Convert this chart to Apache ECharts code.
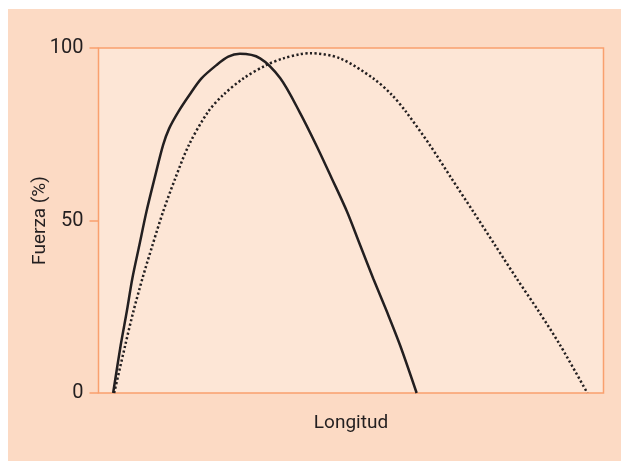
<!DOCTYPE html>
<html><head><meta charset="utf-8">
<script src="https://cdn.jsdelivr.net/npm/echarts@6/dist/echarts.min.js"></script>
<style>
html,body{margin:0;padding:0;background:#fff;width:621px;height:461px;overflow:hidden}
#c{position:absolute;left:8px;top:9px;width:613px;height:452px}
</style></head><body>
<div id="c"></div>
<script>
// Longitud (0-100 scale) and Fuerza (%)
const solidX = [2.9, 4.4, 5.6, 6.7, 8.1, 9.5, 11.1, 12.8, 14.0, 15.8, 18.0, 20.4, 23.4, 25.7, 28.0, 32.0, 36.0, 39.8, 43.1, 46.2, 49.2, 51.8, 54.4, 57.1, 59.7, 63.0];
const solidY = [0, 13.9, 23.6, 33.2, 42.9, 52.6, 62.2, 71.9, 76.7, 81.5, 86.4, 91.2, 95.1, 97.5, 98.3, 97.0, 91.2, 81.5, 71.9, 62.2, 52.6, 42.9, 33.2, 23.6, 13.9, 0];
const dottedX = [3.1, 5.3, 6.9, 8.7, 10.7, 12.8, 15.2, 17.9, 21.7, 24.7, 28.7, 33.3, 36.6, 39.9, 41.9, 47.8, 54.4, 58.1, 60.9, 65.6, 69.9, 74.2, 78.5, 82.8, 87.2, 91.4, 96.8];
const dottedY = [0, 13.9, 23.6, 33.2, 42.9, 52.6, 62.2, 71.9, 81.5, 86.4, 91.2, 95.1, 97.0, 98.2, 98.5, 97.0, 91.2, 86.4, 81.5, 71.9, 62.2, 52.6, 42.9, 33.2, 23.6, 13.9, 0];
const yTicks = [0, 50, 100];
const xName = 'Longitud';
const yName = 'Fuerza (%)';

const pair = (xs, ys) => xs.map((x, i) => [x, ys[i]]);
const font = 'Roboto, "Liberation Sans", sans-serif';
const chart = echarts.init(document.getElementById('c'));
chart.setOption({
  animation: false,
  backgroundColor: '#fcdac4',
  grid: {left: 90.5, top: 39, right: 17.5, bottom: 68, show: true,
         backgroundColor: '#fde6d6', borderColor: '#f9a06e', borderWidth: 1.5},
  xAxis: {type: 'value', min: 0, max: 100, name: xName, nameLocation: 'middle', nameGap: 21,
          nameMoveOverlap: false,
          nameTextStyle: {fontFamily: font, fontSize: 19, color: '#231f20'},
          axisLine: {show: false}, axisTick: {show: false}, axisLabel: {show: false}, splitLine: {show: false}},
  yAxis: {type: 'value', min: 0, max: 100, interval: 50, name: yName, nameLocation: 'middle', nameGap: 49,
          nameMoveOverlap: false,
          nameTextStyle: {fontFamily: font, fontSize: 19, color: '#231f20'},
          axisLine: {show: false},
          axisTick: {show: true, length: 9, lineStyle: {color: '#f9a06e', width: 1.5}},
          axisLabel: {fontFamily: font, fontSize: 20, color: '#231f20', margin: 15,
                      formatter: v => yTicks.includes(v) ? String(v) : ''},
          splitLine: {show: false}},
  series: [
    {type: 'line', data: pair(solidX, solidY), smooth: 0.3, symbol: 'none',
     lineStyle: {color: '#231f20', width: 2.5}},
    {type: 'line', data: pair(dottedX, dottedY), smooth: 0.3, symbol: 'none',
     lineStyle: {color: '#231f20', width: 2.5, type: [2.2, 2.4]}}
  ]
});
</script></body></html>
